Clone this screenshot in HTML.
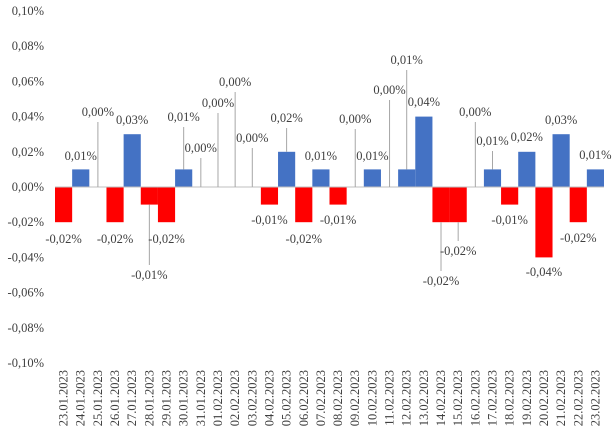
<!DOCTYPE html>
<html><head><meta charset="utf-8"><style>
html,body{margin:0;padding:0;background:#fff;}
svg{display:block;font-family:"Liberation Serif",serif;}
</style></head><body>
<svg id="chart" width="613" height="438" xmlns="http://www.w3.org/2000/svg"></svg>
<script>
const categories=["23.01.2023","24.01.2023","25.01.2023","26.01.2023","27.01.2023","28.01.2023","29.01.2023","30.01.2023","31.01.2023","01.02.2023","02.02.2023","03.02.2023","04.02.2023","05.02.2023","06.02.2023","07.02.2023","08.02.2023","09.02.2023","10.02.2023","11.02.2023","12.02.2023","13.02.2023","14.02.2023","15.02.2023","16.02.2023","17.02.2023","18.02.2023","19.02.2023","20.02.2023","21.02.2023","22.02.2023","23.02.2023"];
const values=[-0.02,0.01,0,-0.02,0.03,-0.01,-0.02,0.01,0,0,0,0,-0.01,0.02,-0.02,0.01,-0.01,0,0.01,0,0.01,0.04,-0.02,-0.02,0,0.01,-0.01,0.02,-0.04,0.03,-0.02,0.01];
const valueLabels=["-0,02%","0,01%","0,00%","-0,02%","0,03%","-0,01%","-0,02%","0,01%","0,00%","0,00%","0,00%","0,00%","-0,01%","0,02%","-0,02%","0,01%","-0,01%","0,00%","0,01%","0,00%","0,01%","0,04%","-0,02%","-0,02%","0,00%","0,01%","-0,01%","0,02%","-0,04%","0,03%","-0,02%","0,01%"];
const yTicks=[0.10,0.08,0.06,0.04,0.02,0,-0.02,-0.04,-0.06,-0.08,-0.10];
const yTickLabels=["0,10%","0,08%","0,06%","0,04%","0,02%","0,00%","-0,02%","-0,04%","-0,06%","-0,08%","-0,10%"];
// label placement (layout): [label center y, leader line? 1/0]
const labelPos=[[239,0],[156,0],[112,1],[239,0],[120,0],[275,1],[239,0],[117,1],[148,1],[103,1],[82,1],[138,1],[220,0],[118,1],[239,0],[156,0],[220,0],[119,1],[156,0],[90,1],[60,1],[102,0],[281,1],[251,1],[112,1],[141,1],[220,0],[137,0],[272,0],[120,0],[238,0],[155,0]];
const svg=document.getElementById('chart');
const NS='http://www.w3.org/2000/svg';
const left=55,right=604,top0=11,bot=363,ymin=-0.10,ymax=0.10;
const bw=(right-left)/categories.length;
const y=v=>top0+(ymax-v)/(ymax-ymin)*(bot-top0);
const xc=i=>left+bw*(i+0.5);
function el(t,a){const e=document.createElementNS(NS,t);for(const k in a)e.setAttribute(k,a[k]);svg.appendChild(e);return e;}
yTicks.forEach((t,i)=>{
  const e=el('text',{x:44,y:y(t)+4,'text-anchor':'end','font-size':12.5,fill:'#404040'});
  e.textContent=yTickLabels[i];
  
  
});
values.forEach((v,i)=>{
  const y0=y(0),y1=y(v);
  const r=el('rect',{x:xc(i)-bw/2,y:Math.min(y0,y1),width:bw,height:Math.abs(y1-y0),fill:v>=0?'#4472c4':'#ff0000'});
  
  
});
const ax=el('line',{x1:left,x2:right,y1:y(0),y2:y(0),stroke:'#bfbfbf','stroke-width':1});


values.forEach((v,i)=>{
  const x=xc(i),ly=labelPos[i][0];
  if(labelPos[i][1]){
    const end=y(v);
    const l=el('line',{x1:x,x2:x,y1:ly<end?ly+10:end,y2:ly<end?end:ly-10,stroke:'#a6a6a6','stroke-width':1});
    
    
  }
  const t=el('text',{x:x,y:ly+4,'text-anchor':'middle','font-size':12.5,fill:'#404040'});
  t.textContent=valueLabels[i];
  
  
  const c=el('text',{x:0,y:0,'text-anchor':'end','font-size':12.5,fill:'#404040',transform:`translate(${x+4},370) rotate(-90)`});
  c.textContent=categories[i];
  
  
});
</script>
</body></html>
